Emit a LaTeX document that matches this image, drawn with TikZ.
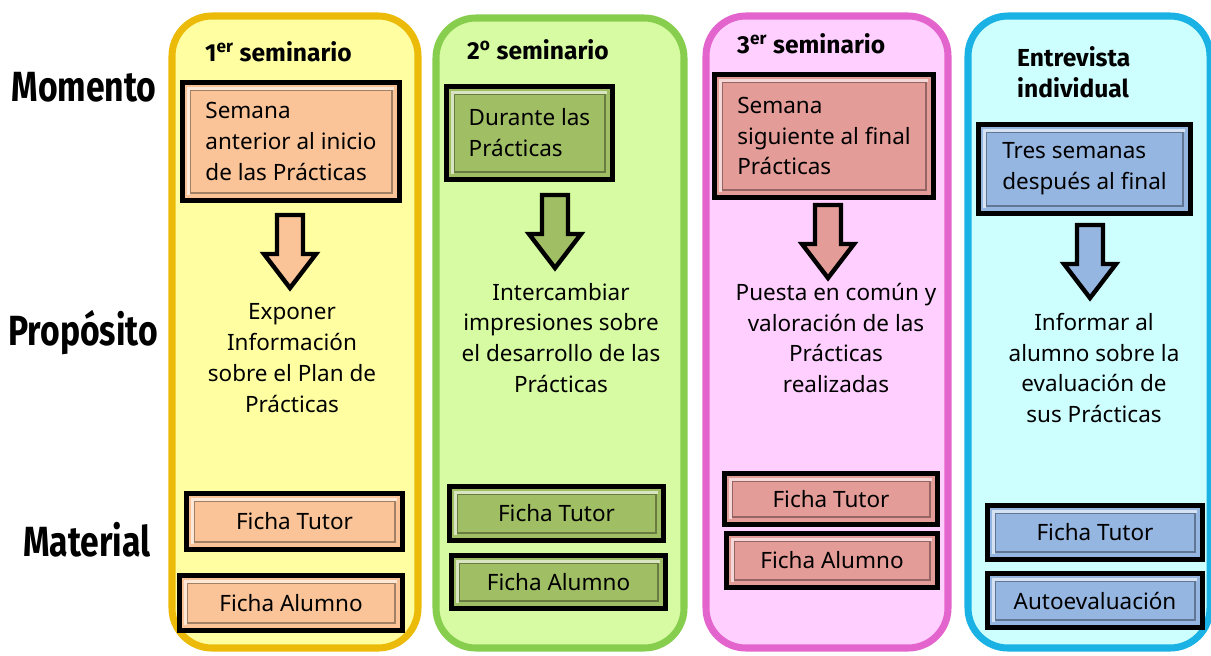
\documentclass[tikz,border=0pt]{standalone}
\usepackage{fontspec}
\setmainfont{Noto Sans}
\newfontfamily\rowfont[FakeStretch=0.8]{Fira Sans}
\newfontfamily\titlefont{Fira Sans}
\definecolor{amarilloF}{RGB}{255,255,162}
\definecolor{amarilloB}{RGB}{236,186,8}
\definecolor{verdeF}{RGB}{214,251,162}
\definecolor{verdeB}{RGB}{136,206,78}
\definecolor{rosaF}{RGB}{255,208,255}
\definecolor{rosaB}{RGB}{228,100,206}
\definecolor{cianF}{RGB}{206,255,255}
\definecolor{cianB}{RGB}{26,178,228}
\definecolor{melocoton}{RGB}{250,196,152}
\definecolor{oliva}{RGB}{160,190,100}
\definecolor{salmon}{RGB}{228,156,152}
\definecolor{azul}{RGB}{150,182,226}
\tikzstyle{columna}=[draw=#1, line width=4pt, rounded corners=0.8cm, inner sep=0pt]
\tikzstyle{caja}=[draw=black, fill=#1, line width=3pt, inner sep=0pt,
  font=\fontsize{12.8}{17.6}\selectfont,
  path picture={\draw[line width=0.8pt, #1!65!black]
    ([shift={(0.15,-0.15)}]path picture bounding box.north west) rectangle
    ([shift={(-0.15,0.15)}]path picture bounding box.south east);
    \draw[line width=1.2pt, #1!40!white]
    ([shift={(0.12,0.12)}]path picture bounding box.south west) --
    ([shift={(0.12,-0.12)}]path picture bounding box.north west) --
    ([shift={(-0.12,-0.12)}]path picture bounding box.north east);}]
\tikzstyle{flecha}=[draw=black, fill=#1, line width=2.5pt, line join=miter]
\tikzstyle{proposito}=[align=center, font=\fontsize{12.8}{17.6}\selectfont]
\tikzstyle{titulo}=[anchor=west, align=left, font=\titlefont\bfseries\fontsize{14}{17.6}\selectfont]
\tikzstyle{fila}=[font=\rowfont\bfseries\fontsize{24}{28}\selectfont]

\begin{document}
\begin{tikzpicture}
    \useasboundingbox (0, 0) rectangle (24.22, -13.1);
    % columnas
    \node[columna=amarilloB, fill=amarilloF, minimum width=4.92cm, minimum height=12.64cm] (C1) at (5.9, -6.64) {};
    \node[columna=verdeB, fill=verdeF, minimum width=4.96cm, minimum height=12.6cm] (C2) at (11.2, -6.66) {};
    \node[columna=rosaB, fill=rosaF, minimum width=4.84cm, minimum height=12.64cm] (C3) at (16.54, -6.64) {};
    \node[columna=cianB, fill=cianF, minimum width=4.84cm, minimum height=12.64cm] (C4) at (21.78, -6.64) {};
    % filas
    \node[fila] (momento) at (1.68, -1.74) {Momento};
    \node[fila] (proposito) at (1.66, -6.66) {Propósito};
    \node[fila] (material) at (1.74, -10.8) {Material};
    % titulos
    \node[titulo] (T1) at (3.98, -1.04) {1\textsuperscript{er} seminario};
    \node[titulo] (T2) at (9.22, -1.0) {2\textsuperscript{o} seminario};
    \node[titulo] (T3) at (14.62, -0.88) {3\textsuperscript{er} seminario};
    \node[titulo] (T4) at (20.22, -1.45) {Entrevista\\individual};
    % momento
    \node[caja=melocoton, align=left, minimum width=4.34cm, minimum height=2.36cm] (A1) at (5.82, -2.83) {Semana\\anterior al inicio\\ de las Prácticas};
    \node[caja=oliva, align=left, minimum width=3.32cm, minimum height=1.86cm] (A2) at (10.59, -2.66) {Durante las\\Prácticas};
    \node[caja=salmon, align=left, minimum width=4.38cm, minimum height=2.46cm] (A3) at (16.48, -2.72) {Semana\\siguiente al final\\Prácticas};
    \node[caja=azul, align=left, minimum width=4.24cm, minimum height=1.78cm] (A4) at (21.69, -3.38) {Tres semanas\\después al final};
    % flechas
    \coordinate (F1) at (5.8, -4.3);
    \coordinate (F2) at (11.1, -3.9);
    \coordinate (F3) at (16.56, -4.1);
    \coordinate (F4) at (21.8, -4.5);
    \foreach \f/\c in {F1/melocoton, F2/oliva, F3/salmon, F4/azul}
        \draw[flecha=\c] (\f) ++(-0.26, 0) -- ++(0.52, 0) -- ++(0, -0.78) -- ++(0.26, 0)
            -- ++(-0.52, -0.68) -- ++(-0.52, 0.68) -- ++(0.26, 0) -- cycle;
    % proposito
    \node[proposito] (P1) at (5.84, -7.16) {Exponer\\Información\\sobre el Plan de\\Prácticas};
    \node[proposito] (P2) at (11.22, -6.76) {Intercambiar\\impresiones sobre\\el desarrollo de las\\Prácticas};
    \node[proposito] (P3) at (16.72, -6.76) {Puesta en común y\\valoración de las\\Prácticas\\realizadas};
    \node[proposito] (P4) at (21.88, -7.36) {Informar al\\alumno sobre la\\evaluación de\\sus Prácticas};
    % material
    \node[caja=melocoton, minimum width=4.32cm, minimum height=1.12cm] (M1) at (5.89, -10.43) {Ficha Tutor};
    \node[caja=melocoton, minimum width=4.46cm, minimum height=1.1cm] (N1) at (5.82, -12.06) {Ficha Alumno};
    \node[caja=oliva, minimum width=4.28cm, minimum height=1.08cm] (M2) at (11.13, -10.27) {Ficha Tutor};
    \node[caja=oliva, minimum width=4.28cm, minimum height=1.06cm] (N2) at (11.17, -11.64) {Ficha Alumno};
    \node[caja=salmon, minimum width=4.26cm, minimum height=1.02cm] (M3) at (16.62, -9.98) {Ficha Tutor};
    \node[caja=salmon, minimum width=4.22cm, minimum height=1.08cm] (N3) at (16.64, -11.21) {Ficha Alumno};
    \node[caja=azul, minimum width=4.3cm, minimum height=1.08cm] (M4) at (21.9, -10.65) {Ficha Tutor};
    \node[caja=azul, minimum width=4.3cm, minimum height=1.08cm] (N4) at (21.9, -12.01) {Autoevaluación};
\end{tikzpicture}
\end{document}
